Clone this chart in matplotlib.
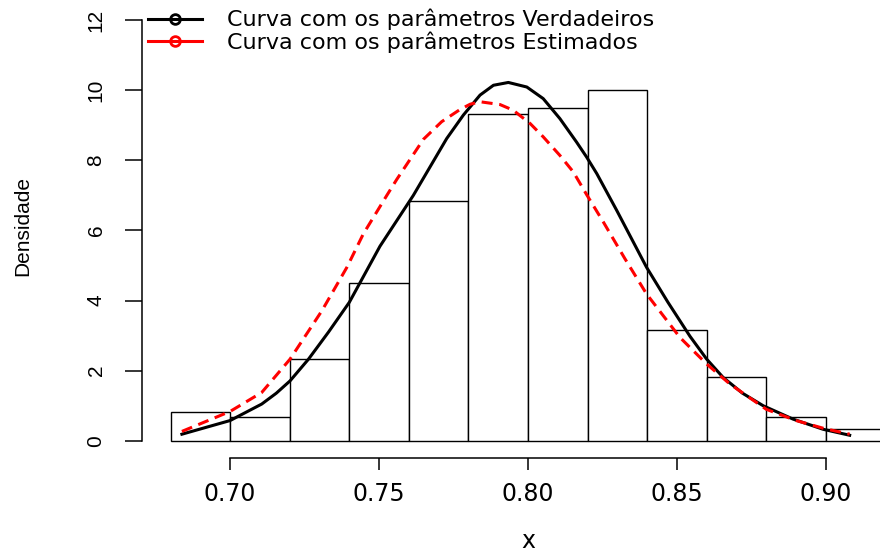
import matplotlib
matplotlib.use("Agg")
import matplotlib.pyplot as plt
from matplotlib.lines import Line2D

# Histogram: class breaks and densities
breaks = [0.68, 0.70, 0.72, 0.74, 0.76, 0.78, 0.80, 0.82, 0.84, 0.86, 0.88, 0.90, 0.92]
density = [0.833, 0.667, 2.333, 4.5, 6.833, 9.333, 9.5, 10.0, 3.167, 1.833, 0.667, 0.333]

# Density curve with the true parameters
x_true = [0.6838, 0.700, 0.7106, 0.7155, 0.7201, 0.7263, 0.7330, 0.7400, 0.7503,
          0.7615, 0.7727, 0.7783, 0.7839, 0.7884, 0.7934, 0.7996, 0.8051, 0.8107,
          0.8163, 0.8197, 0.8231, 0.8298, 0.8398, 0.8470, 0.8544, 0.8600, 0.8655,
          0.8720, 0.8790, 0.8890, 0.8991, 0.9080]
y_true = [0.19, 0.58, 1.05, 1.36, 1.71, 2.33, 3.10, 3.95, 5.55,
          7.00, 8.62, 9.29, 9.86, 10.14, 10.22, 10.09, 9.76, 9.19,
          8.52, 8.09, 7.62, 6.57, 4.95, 3.95, 2.98, 2.33, 1.81,
          1.36, 1.00, 0.62, 0.33, 0.16]

# Density curve with the estimated parameters
x_est = [0.6838, 0.700, 0.7106, 0.7201, 0.7308, 0.7392, 0.7447, 0.7526, 0.7559,
         0.7649, 0.7710, 0.7772, 0.7806, 0.7839, 0.7906, 0.7950, 0.8007, 0.8051,
         0.8107, 0.8152, 0.8197, 0.8253, 0.8325, 0.8398, 0.8510, 0.8600, 0.8678,
         0.8800, 0.8900, 0.8991, 0.9080]
y_est = [0.27, 0.84, 1.38, 2.33, 3.71, 4.95, 5.90, 7.00, 7.45,
         8.60, 9.10, 9.45, 9.60, 9.67, 9.59, 9.43, 9.05, 8.67,
         8.14, 7.67, 7.02, 6.24, 5.20, 4.19, 2.95, 2.19, 1.62,
         0.90, 0.58, 0.36, 0.19]

x_ticks = [0.70, 0.75, 0.80, 0.85, 0.90]
x_ticklabels = ["0.70", "0.75", "0.80", "0.85", "0.90"]
y_ticks = [0, 2, 4, 6, 8, 10, 12]
y_ticklabels = ["0", "2", "4", "6", "8", "10", "12"]
legend_labels = ["Curva com os parâmetros Verdadeiros",
                 "Curva com os parâmetros Estimados"]

H_FONT = "DejaVu Sans"
V_FONT = "Liberation Sans"
H_SIZE = 17
V_SIZE = 15
LEG_SIZE = 16

W, H = 880, 556
fig = plt.figure(figsize=(W / 100, H / 100), dpi=100)
ax = fig.add_axes([142 / W, 1 - 457.7 / H, (914 - 142) / W, (457.7 - 3.2) / H])
ax.set_xlim(0.6704, 0.9296)
ax.set_ylim(-0.48, 12.48)

# Histogram bars
widths = [b - a for a, b in zip(breaks[:-1], breaks[1:])]
ax.bar(breaks[:-1], density, width=widths, align="edge",
       facecolor="white", edgecolor="black", linewidth=1.0, zorder=2)

# Curves
ax.plot(x_true, y_true, color="black", linewidth=2.2, solid_joinstyle="round",
        zorder=3)
ax.plot(x_est, y_est, color="red", linewidth=2.2, linestyle=(0, (3.6, 2.2)),
        zorder=3)

# R-style axes
for s in ("top", "right"):
    ax.spines[s].set_visible(False)
ax.spines["left"].set_bounds(0, 12)
ax.spines["bottom"].set_bounds(0.70, 0.90)
for s in ("left", "bottom"):
    ax.spines[s].set_linewidth(1.1)

ax.set_xticks(x_ticks)
ax.set_xticklabels(x_ticklabels, fontfamily=H_FONT, fontsize=H_SIZE)
ax.set_yticks(y_ticks)
ax.set_yticklabels(y_ticklabels, fontfamily=V_FONT, fontsize=V_SIZE,
                   rotation=90, va="center")
ax.tick_params(axis="x", direction="out", length=8.3, width=1.1, pad=9)
ax.tick_params(axis="y", direction="out", length=12.2, width=1.1, pad=14)

fig.text(528 / W, 1 - 548 / H, "x", ha="center", va="baseline",
         fontfamily=H_FONT, fontsize=H_SIZE)
fig.text(23 / W, 1 - 226 / H, "Densidade", ha="center", va="center",
         rotation=90, fontfamily=V_FONT, fontsize=V_SIZE)

# Legend
handles = [
    Line2D([], [], color="black", linewidth=2.2, marker="o", markersize=7,
           markerfacecolor="none", markeredgewidth=2.0),
    Line2D([], [], color="red", linewidth=2.2, marker="o", markersize=7,
           markerfacecolor="none", markeredgewidth=2.0),
]
fig.legend(handles, legend_labels, loc="upper left",
           bbox_to_anchor=(148 / W, 1 - 9 / H), frameon=False,
           prop={"family": H_FONT, "size": LEG_SIZE}, numpoints=1,
           handlelength=39 / LEG_SIZE, handletextpad=18 / LEG_SIZE,
           labelspacing=0.05, borderpad=0.0, borderaxespad=0.0)

fig.savefig("out.png", dpi=100)
